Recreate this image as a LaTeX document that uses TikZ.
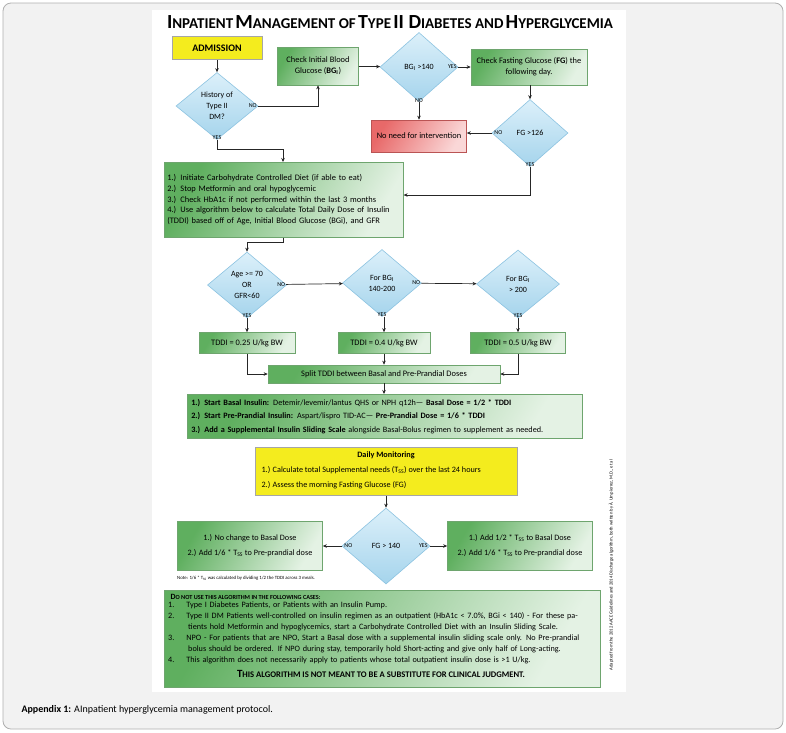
\documentclass[tikz,border=0pt]{standalone}
\usepackage{fontspec}
\setmainfont{Carlito}
\usetikzlibrary{shapes.geometric,arrows.meta}
\definecolor{gdark}{RGB}{95,175,95}
\definecolor{glight}{RGB}{228,242,228}
\definecolor{gline}{RGB}{110,165,110}
\definecolor{rdark}{RGB}{232,105,105}
\definecolor{rlight}{RGB}{250,215,215}
\definecolor{btop}{RGB}{220,240,250}
\definecolor{bbot}{RGB}{165,212,236}
\definecolor{bline}{RGB}{140,195,225}
\definecolor{ylw}{RGB}{244,236,30}
\definecolor{framebg}{RGB}{242,242,242}
\definecolor{framel}{RGB}{175,175,175}
\tikzset{
  box/.style={draw=gline,line width=0.6pt,left color=gdark,right color=glight,shading angle=60,inner sep=2pt,align=center,font=\fontsize{8.4}{11}\selectfont},
  redbox/.style={draw=rdark!80!black,line width=0.6pt,left color=rdark,right color=rlight,shading angle=60,align=center,font=\fontsize{8.4}{11}\selectfont},
  ybox/.style={draw=gray!70,line width=0.5pt,fill=ylw,align=center},
  dia/.style={diamond,draw=bline,line width=0.6pt,top color=btop,bottom color=bbot,inner sep=0pt,align=center,font=\fontsize{8}{11}\selectfont},
  lab/.style={font=\fontsize{6}{6}\selectfont,inner sep=0.5pt},
  arr/.style={-{Stealth[length=4pt,width=3.5pt]},line width=0.7pt,black!85},
}
\begin{document}
\begin{tikzpicture}[x=1pt,y=-1pt]
\useasboundingbox (0,0) rectangle (786,732);
\draw[framel,fill=framebg,rounded corners=8pt,line width=0.8pt] (3,3) rectangle (783,729);
\fill[white] (152,10) rectangle (626,692);
\node[font=\fontsize{10}{12}\selectfont,anchor=west] at (18,710) {\textbf{Appendix 1:} AInpatient hyperglycemia management protocol.};
% title
\node[font=\bfseries] (title) at (390,22) {{\fontsize{20}{22}\selectfont I}{\fontsize{15}{22}\selectfont NPATIENT} {\fontsize{20}{22}\selectfont M}{\fontsize{15}{22}\selectfont ANAGEMENT OF} {\fontsize{20}{22}\selectfont T}{\fontsize{15}{22}\selectfont YPE} {\fontsize{20}{22}\selectfont II D}{\fontsize{15}{22}\selectfont IABETES AND} {\fontsize{20}{22}\selectfont H}{\fontsize{15}{22}\selectfont YPERGLYCEMIA}};
% top row
\node[ybox,minimum width=90pt,minimum height=23pt,font=\bfseries\fontsize{10}{12}\selectfont] (adm) at (217,48) {ADMISSION};
\node[dia,minimum width=82pt,minimum height=67pt] (hist) at (217,106) {History of\\Type II\\DM?};
\node[box,minimum width=81pt,minimum height=38pt] (cbg) at (318,66) {Check Initial Blood\\Glucose (\textbf{BG\textsubscript{I}})};
\node[dia,minimum width=78pt,minimum height=69pt] (bg140) at (419,67) {BG\textsubscript{I} >140};
\node[box,minimum width=116pt,minimum height=36pt] (cfg) at (529,67) {Check Fasting Glucose (\textbf{FG}) the\\following day.};
\node[dia,minimum width=76pt,minimum height=67pt] (fg126) at (530,133) {FG >126};
\node[redbox,minimum width=95pt,minimum height=32pt] (noneed) at (419,136) {No need for intervention};
\node[box,minimum height=75pt,text width=233pt,align=left,anchor=north west,inner sep=3pt,font=\fontsize{8.4}{10.7}\selectfont] (b1) at (164,162) {1.) Initiate Carbohydrate Controlled Diet (if able to eat)\\2.) Stop Metformin and oral hypoglycemic\\3.) Check HbA1c if not performed within the last 3 months\\4.) Use algorithm below to calculate Total Daily Dose of Insulin\\(TDDI) based off of Age, Initial Blood Glucose (BGi), and GFR};
% connectors top
\draw[arr] (adm) -- (hist);
\draw[arr] (hist.east) -| (cbg.south);
\node[lab,anchor=east] at ([xshift=-1pt]hist.east) {NO};
\draw[arr] (hist.south) -- ++(0,10) -| (283,162);
\node[lab,anchor=south] at (hist.south) {YES};
\draw[arr] (cbg) -- (bg140);
\draw[arr] (bg140) -- (cfg);
\node[lab,anchor=east] at ([xshift=-1pt]bg140.east) {YES};
\draw[arr] (bg140) -- (noneed);
\node[lab,anchor=south] at ([yshift=-1pt]bg140.south) {NO};
\draw[arr] (cfg.south -| fg126.north) -- (fg126);
\draw[arr] (fg126.west) -- (noneed.east |- fg126.west);
\node[lab,anchor=west] at ([xshift=2pt]fg126.west) {NO};
\draw[arr] (fg126.south) |- (b1.east |- 0,195);
\node[lab,anchor=south] at (fg126.south) {YES};
% middle
\node[dia,minimum width=79pt,minimum height=66pt] (age) at (247,285) {Age >= 70\\OR\\GFR<60};
\node[dia,minimum width=79pt,minimum height=67pt] (bgm) at (382,283) {For BG\textsubscript{I}\\140-200};
\node[dia,minimum width=83pt,minimum height=68pt] (bgh) at (518,284) {For BG\textsubscript{I}\\> 200};
\node[box,minimum width=96pt,minimum height=21pt] (t1) at (247,343) {TDDI = 0.25 U/kg BW};
\node[box,minimum width=92pt,minimum height=21pt] (t2) at (384,343) {TDDI = 0.4 U/kg BW};
\node[box,minimum width=95pt,minimum height=21pt] (t3) at (518,343) {TDDI = 0.5 U/kg BW};
\node[box,minimum width=232pt,minimum height=18pt] (split) at (384,374) {Split TDDI between Basal and Pre-Prandial Doses};
\node[box,minimum height=44pt,text width=387pt,align=left,anchor=north west,inner sep=4pt,font=\fontsize{8.2}{13.5}\selectfont] (b2) at (187,394) {\textbf{1.) Start Basal Insulin:} Detemir/levemir/lantus QHS or NPH q12h--- \textbf{Basal Dose = 1/2 * TDDI}\\\textbf{2.) Start Pre-Prandial Insulin:} Aspart/lispro TID-AC--- \textbf{Pre-Prandial Dose = 1/6 * TDDI}\\\textbf{3.) Add a Supplemental Insulin Sliding Scale} alongside Basal-Bolus regimen to supplement as needed.};
\draw[arr] (b1.south -| 283,0) -- ++(0,5) -| (age.north);
\draw[arr] (age) -- (bgm);
\node[lab,anchor=east] at ([xshift=-1pt]age.east) {NO};
\draw[arr] (bgm) -- (bgh);
\node[lab,anchor=east] at ([xshift=-1pt]bgm.east) {NO};
\draw[arr] (age) -- (t1);
\node[lab,anchor=south] at (age.south) {YES};
\draw[arr] (bgm.south -| t2.north) -- (t2);
\node[lab,anchor=south] at (bgm.south) {YES};
\draw[arr] (bgh) -- (t3);
\node[lab,anchor=south] at (bgh.south) {YES};
\draw[arr] (t1.south) |- (split.west);
\draw[arr] (t2) -- (split);
\draw[arr] (t3.south) |- (split.east);
\draw[arr] (split) -- (split.south |- b2.north);
% bottom
\node[ybox,minimum width=262pt,minimum height=48pt,anchor=north west,inner sep=0pt] (dm) at (255,447) {};
\node[font=\bfseries\fontsize{8.2}{9}\selectfont] (dmt) at (386,455) {Daily Monitoring};
\node[font=\fontsize{8.2}{9}\selectfont,anchor=west] (dm1) at (258,470) {1.) Calculate total Supplemental needs (T\textsubscript{SS}) over the last 24 hours};
\node[font=\fontsize{8.2}{9}\selectfont,anchor=west] (dm2) at (258,485) {2.) Assess the morning Fasting Glucose (FG)};
\node[dia,minimum width=88pt,minimum height=76pt] (fg140) at (386,546) {FG > 140};
\node[box,minimum width=145pt,minimum height=49pt,font=\fontsize{8.2}{15}\selectfont] (lb) at (250,546) {1.) No change to Basal Dose\\2.) Add 1/6 * T\textsubscript{SS} to Pre-prandial dose};
\node[box,minimum width=145pt,minimum height=49pt,font=\fontsize{8.2}{15}\selectfont] (rb) at (520,546) {1.) Add 1/2 * T\textsubscript{SS} to Basal Dose\\2.) Add 1/6 * T\textsubscript{SS} to Pre-prandial dose};
\draw[arr] (dm.south -| fg140.north) -- (fg140);
\draw[arr] (fg140) -- (lb);
\node[lab,anchor=west] at ([xshift=2pt]fg140.west) {NO};
\draw[arr] (fg140) -- (rb);
\node[lab,anchor=east] at ([xshift=-2pt]fg140.east) {YES};
\node[font=\fontsize{4.8}{5}\selectfont,anchor=west,inner sep=0pt] (note) at (177,578) {Note: 1/6 * T\textsubscript{SS} was calculated by dividing 1/2 the TDDI across 3 meals.};
\node[box,minimum width=436pt,minimum height=97pt,anchor=north west,inner sep=0pt] (b3) at (164,590) {};
\node[font=\bfseries\fontsize{8}{9}\selectfont,anchor=west] (b3t) at (167,597) {D{\fontsize{6.2}{9}\selectfont O NOT USE THIS ALGORITHM IN THE FOLLOWING CASES:}};
\node[font=\fontsize{8.2}{11}\selectfont,anchor=north west,align=left,text width=425pt,inner sep=0pt] (b3l) at (168,602) {%
1.\hspace{12pt}Type I Diabetes Patients, or Patients with an Insulin Pump.\\
2.\hspace{12pt}Type II DM Patients well-controlled on insulin regimen as an outpatient (HbA1c < 7.0\%, BGi < 140) - For these pa-\\
\hspace*{20pt}tients hold Metformin and hypoglycemics, start a Carbohydrate Controlled Diet with an Insulin Sliding Scale.\\
3.\hspace{12pt}NPO - For patients that are NPO, Start a Basal dose with a supplemental insulin sliding scale only. No Pre-prandial\\
\hspace*{20pt}bolus should be ordered. If NPO during stay, temporarily hold Short-acting and give only half of Long-acting.\\
4.\hspace{12pt}This algorithm does not necessarily apply to patients whose total outpatient insulin dose is >1 U/kg.};
\node[font=\bfseries\fontsize{11}{12}\selectfont] (b3f) at (381,674) {T{\fontsize{8.6}{12}\selectfont HIS ALGORITHM IS NOT MEANT TO BE A SUBSTITUTE FOR CLINICAL JUDGMENT.}};
\node[rotate=90,font=\fontsize{4.6}{5}\selectfont] (adapt) at (611,565) {Adapted from the 2012 AACE Guidelines and 2014 Discharge algorithm, both written by \`A. Umpierrez, M.D., et al};
\end{tikzpicture}
\end{document}
